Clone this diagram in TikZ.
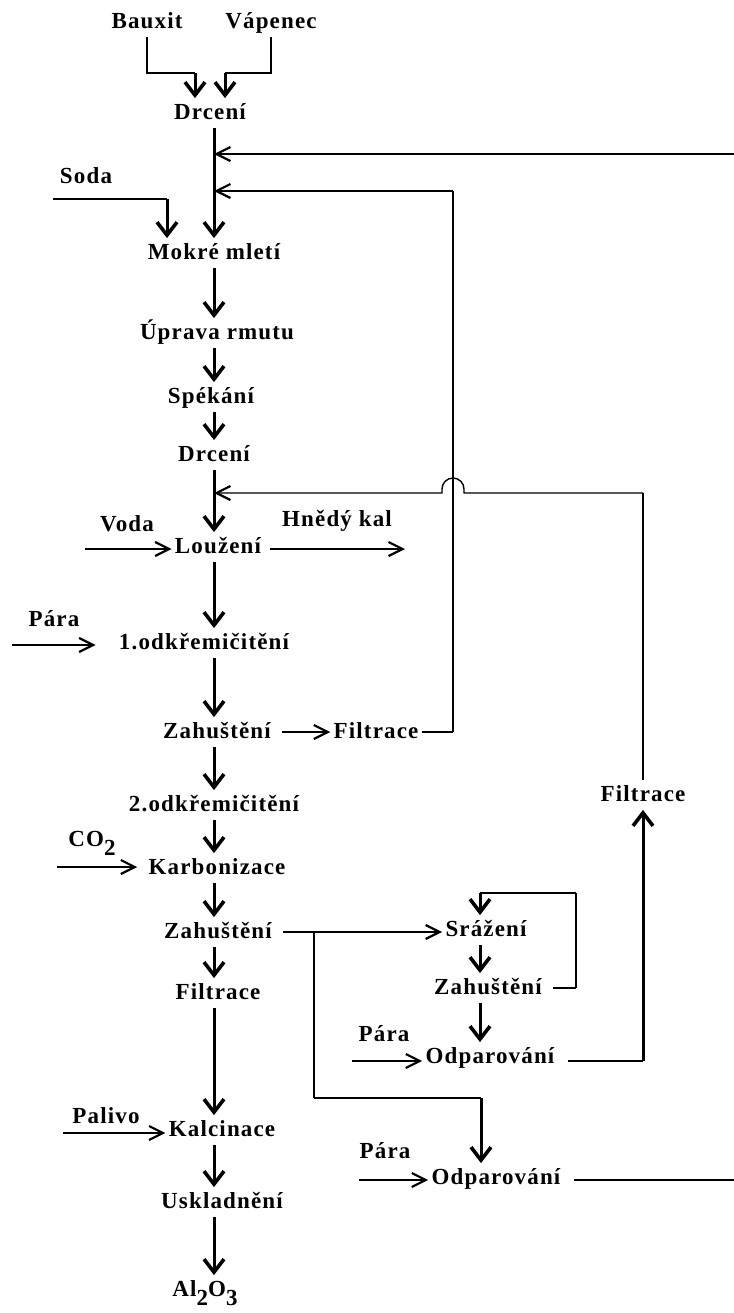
\documentclass[tikz,border=0pt]{standalone}
\usepackage{fontspec}
\setmainfont{Liberation Serif}[LetterSpace=5]
\usetikzlibrary{arrows.meta}
\newcommand\lowsub[1]{\raisebox{-0.4em}{#1}}

\begin{document}
\begin{tikzpicture}[x=0.5pt, y=-0.5pt,
  lbl/.style={font=\fontsize{11.5}{13}\selectfont\bfseries, inner xsep=1.5pt, inner ysep=2pt, text height=8.5pt, text depth=2pt},
  flow/.style={line width=1.5pt, -{Straight Barb[length=6.5pt,width=10pt,line width=1.8pt]}},
  feed/.style={line width=0.7pt, -{Straight Barb[length=7pt,width=7pt,line width=1.1pt]}},
  pipe/.style={line width=0.7pt},
  riser/.style={line width=1.1pt}]
			%%%%% START %%%%%
			\useasboundingbox (0,0) rectangle (734,1313);
			
			\coordinate (spine) at (214,0);
			\coordinate (spine2) at (480,0);
			
			% main column
			\node[lbl] (bauxit) at (147,22) {Bauxit};
			\node[lbl] (vapenec) at (271,22) {Vápenec};
			\node[lbl] (drceni1) at (210,113) {Drcení};
			\node[lbl] (soda) at (86,177) {Soda};
			\node[lbl] (mokre) at (214,253) {Mokré mletí};
			\node[lbl] (uprava) at (217,333) {Úprava rmutu};
			\node[lbl] (spekani) at (211,397) {Spékání};
			\node[lbl] (drceni2) at (214,455) {Drcení};
			\node[lbl] (voda) at (127,525) {Voda};
			\node[lbl] (louzeni) at (218,547) {Loužení};
			\node[lbl] (hnedy) at (337,520) {Hnědý kal};
			\node[lbl] (para1) at (54,620) {Pára};
			\node[lbl] (odkrem1) at (204,643) {1.odkřemičitění};
			\node[lbl] (zahust1) at (217,732) {Zahuštění};
			\node[lbl] (filtr1) at (376,732) {Filtrace};
			\node[lbl] (odkrem2) at (214,805) {2.odkřemičitění};
			\node[lbl] (co2) at (92,840) {CO\lowsub{2}};
			\node[lbl] (karbon) at (217,868) {Karbonizace};
			\node[lbl] (zahust2) at (218,932) {Zahuštění};
			\node[lbl] (filtr2) at (218,993) {Filtrace};
			\node[lbl] (palivo) at (106,1117) {Palivo};
			\node[lbl] (kalcin) at (222,1130) {Kalcinace};
			\node[lbl] (usklad) at (222,1202) {Uskladnění};
			\node[lbl] (al2o3) at (205,1290) {Al\lowsub{2}O\lowsub{3}};
			
			% right branch
			\node[lbl] (filtr3) at (643,795) {Filtrace};
			\node[lbl] (srazeni) at (486,930) {Srážení};
			\node[lbl] (zahust3) at (488,988) {Zahuštění};
			\node[lbl] (para2) at (384,1035) {Pára};
			\node[lbl] (odpar1) at (490,1057) {Odparování};
			\node[lbl] (para3) at (385,1152) {Pára};
			\node[lbl] (odpar2) at (496,1178) {Odparování};
			
			% raw materials
			\coordinate (bxbend) at (195,73);
			\coordinate (vpbend) at (225,73);
			\draw[riser] (bauxit.south) |- (bxbend);
			\draw[riser] (vapenec.south) |- (vpbend);
			\draw[flow] (bxbend) -- (bxbend |- drceni1.north);
			\draw[flow] (vpbend) -- (vpbend |- drceni1.north);
			
			\coordinate (sodain) at (53,199);
			\coordinate (sodabend) at (167,199);
			\draw[pipe] (sodain) -- (sodabend);
			\draw[flow] (sodabend) -- (sodabend |- mokre.north);
			
			% main flow
			\draw[flow] (drceni1.south -| spine) -- (mokre.north -| spine);
			\draw[flow] (mokre.south -| spine) -- (uprava.north -| spine);
			\draw[flow] (uprava.south -| spine) -- (spekani.north -| spine);
			\draw[flow] (spekani.south -| spine) -- (drceni2.north -| spine);
			\draw[flow] (drceni2.south -| spine) -- (louzeni.north -| spine);
			\draw[flow] (louzeni.south -| spine) -- (odkrem1.north -| spine);
			\draw[flow] (odkrem1.south -| spine) -- (zahust1.north -| spine);
			\draw[flow] (zahust1.south -| spine) -- (odkrem2.north -| spine);
			\draw[flow] (odkrem2.south -| spine) -- (karbon.north -| spine);
			\draw[flow] (karbon.south -| spine) -- (zahust2.north -| spine);
			\draw[flow] (zahust2.south -| spine) -- (filtr2.north -| spine);
			\draw[flow] (filtr2.south -| spine) -- (kalcin.north -| spine);
			\draw[flow] (kalcin.south -| spine) -- (usklad.north -| spine);
			\draw[flow] (usklad.south -| spine) -- (al2o3.north -| spine);
			
			% side feeds
			\coordinate (vodain) at (85,549);
			\coordinate (kalout) at (405,549);
			\draw[feed] (vodain) -- (vodain -| louzeni.west);
			\draw[feed] ([xshift=3pt]louzeni.east |- kalout) -- (kalout);
			
			\coordinate (para1in) at (12,645);
			\draw[feed, shorten >=10pt] (para1in) -- (para1in -| odkrem1.west);
			\draw[feed] ([xshift=4pt]zahust1.east) -- (filtr1.west);
			
			\coordinate (co2in) at (57,867);
			\draw[feed, shorten >=4pt] (co2in) -- (co2in -| karbon.west);
			
			\coordinate (palin) at (63,1133);
			\draw[feed] (palin) -- (palin -| kalcin.west);
			
			% returns
			\coordinate (retA) at (734,154);
			\draw[feed] (retA) -- (retA -| spine);
			
			\coordinate (retB) at (453,191);
			\draw[pipe] (filtr1.east) -- (filtr1.east -| retB);
			\draw[riser] (filtr1.east -| retB) -- (retB);
			\draw[feed] (retB) -- (retB -| spine);
			
			\coordinate (retC) at (643,493);
			\draw[riser] (filtr3.north) -- (retC);
			\draw[feed] (retC) -- (464,493) -- (464,489) arc[start angle=0, end angle=180, radius=5.5pt] -- (442,493) -- (retC -| spine);
			
			% branch to Srážení / Odparování
			\coordinate (brA) at (314,932);
			\coordinate (brB) at (314,1098);
			\coordinate (brC) at (481,1098);
			\draw[feed] ([xshift=4pt]zahust2.east) -- (zahust2.east -| srazeni.west);
			\draw[riser] (brA) -- (brB);
			\draw[pipe] (brB) -- (brC);
			\draw[flow] (brC) -- (brC |- odpar2.north);
			
			\draw[flow] (srazeni.south -| spine2) -- (zahust3.north -| spine2);
			\draw[flow] (zahust3.south -| spine2) -- (odpar1.north -| spine2);
			
			\coordinate (lpA) at (576,990);
			\coordinate (lpB) at (480,893);
			\draw[pipe] ([xshift=4pt]zahust3.east) -- (zahust3.east -| lpA);
			\draw[riser] (zahust3.east -| lpA) -- (lpA |- lpB);
			\draw[pipe] (lpA |- lpB) -- (lpB);
			\draw[flow] (lpB) -- (lpB |- srazeni.north);
			
			\coordinate (para2in) at (352,1061);
			\draw[feed] (para2in) -- (para2in -| odpar1.west);
			\coordinate (upA) at (643,1061);
			\draw[pipe] ([xshift=5pt]odpar1.east |- upA) -- (upA);
			\draw[flow] (upA) -- (filtr3.south);
			
			\coordinate (para3in) at (359,1180);
			\draw[feed] (para3in) -- (para3in -| odpar2.west);
			\coordinate (odout) at (734,1180);
			\draw[pipe] ([xshift=5pt]odpar2.east |- odout) -- (odout);
			
			%%%%% END %%%%%
\end{tikzpicture}
\end{document}
